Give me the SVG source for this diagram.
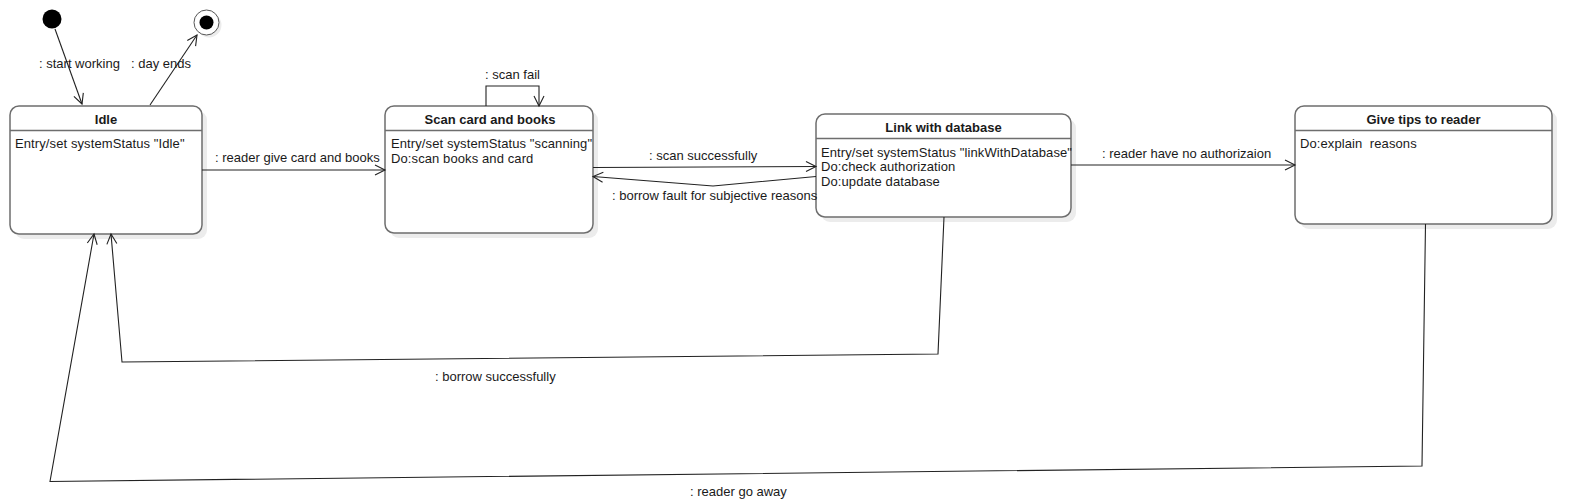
<svg xmlns="http://www.w3.org/2000/svg" width="1572" height="504" viewBox="0 0 1572 504">
<style>
text{font-family:"Liberation Sans",Arial,sans-serif;font-size:13px;letter-spacing:0.1px;fill:#1a1a1a;white-space:pre}
.t{font-weight:bold;text-anchor:middle;letter-spacing:0}
.box{fill:#fff;stroke:#6e6e6e;stroke-width:1.5}
.sh{fill:#ececec}
.div{stroke:#6e6e6e;stroke-width:1.5}
.c{fill:none;stroke:#222;stroke-width:1.1}
</style>
<defs>
<marker id="a" markerUnits="userSpaceOnUse" markerWidth="14" markerHeight="14" refX="11" refY="6" orient="auto">
<path d="M1,1 L11,6 L1,11" fill="none" stroke="#222" stroke-width="1.1"/>
</marker>
</defs>
<rect width="1572" height="504" fill="#fff"/>

<g id="initial">
<circle cx="52" cy="19" r="9.5" fill="#000"/>
</g>
<g id="final">
<circle cx="209" cy="25" r="12.5" fill="#ececec"/>
<circle cx="206.5" cy="22.5" r="12.5" fill="#fff" stroke="#555" stroke-width="1"/>
<circle cx="206.5" cy="22.5" r="7" fill="#000"/>
</g>

<g id="idle">
<rect class="sh" x="15" y="111" width="192" height="128" rx="9"/>
<rect class="box" x="10" y="106" width="192" height="128" rx="9"/>
<line class="div" x1="10" y1="130.5" x2="202" y2="130.5"/>
<text class="t" x="106" y="123.5">Idle</text>
<text x="15" y="147.5">Entry/set systemStatus "Idle"</text>
</g>

<g id="scan">
<rect class="sh" x="390" y="111" width="208" height="127" rx="9"/>
<rect class="box" x="385" y="106" width="208" height="127" rx="9"/>
<line class="div" x1="385" y1="130.5" x2="593" y2="130.5"/>
<text class="t" x="490" y="123.5">Scan card and books</text>
<text x="391" y="147.5">Entry/set systemStatus "scanning"</text>
<text x="391" y="163">Do:scan books and card</text>
</g>

<g id="link">
<rect class="sh" x="821" y="119" width="255" height="103" rx="9"/>
<rect class="box" x="816" y="114" width="255" height="103" rx="9"/>
<line class="div" x1="816" y1="138.5" x2="1071" y2="138.5"/>
<text class="t" x="943.5" y="131.5">Link with database</text>
<text x="821" y="156.5">Entry/set systemStatus "linkWithDatabase"</text>
<text x="821" y="171">Do:check authorization</text>
<text x="821" y="185.5">Do:update database</text>
</g>

<g id="tips">
<rect class="sh" x="1300" y="111" width="257" height="118" rx="9"/>
<rect class="box" x="1295" y="106" width="257" height="118" rx="9"/>
<line class="div" x1="1295" y1="130.5" x2="1552" y2="130.5"/>
<text class="t" x="1423.5" y="123.5">Give tips to reader</text>
<text x="1300" y="148">Do:explain  reasons</text>
</g>

<g id="connectors">
<path class="c" d="M55,29 L82,104" marker-end="url(#a)"/>
<path class="c" d="M150,105 L197,35" marker-end="url(#a)"/>
<path class="c" d="M202,170 L385,170" marker-end="url(#a)"/>
<path class="c" d="M486,106 L486,86 L539,86 L539,106" marker-end="url(#a)"/>
<path class="c" d="M593,167.5 L816,166.5" marker-end="url(#a)"/>
<path class="c" d="M816,176.5 L713,186 L593,176.5" marker-end="url(#a)"/>
<path class="c" d="M1071,165 L1295,165" marker-end="url(#a)"/>
<path class="c" d="M944,217 L938,354 L122,362 L111,234" marker-end="url(#a)"/>
<path class="c" d="M1425.5,224 L1422,466 L50,481.5 L94,234" marker-end="url(#a)"/>
<text x="39" y="67.5" style="letter-spacing:0">: start working</text>
<text x="131" y="67.5" style="letter-spacing:0">: day ends</text>
<text x="215" y="161.5" style="letter-spacing:0">: reader give card and books</text>
<text x="485" y="78.5" style="letter-spacing:0">: scan fail</text>
<text x="649" y="159.5" style="letter-spacing:0">: scan successfully</text>
<text x="612" y="199.5" style="letter-spacing:0">: borrow fault for subjective reasons</text>
<text x="1102" y="157.5" style="letter-spacing:0">: reader have no authorizaion</text>
<text x="435" y="380.5" style="letter-spacing:0">: borrow successfully</text>
<text x="690" y="495.5" style="letter-spacing:0">: reader go away</text>
</g>
</svg>
